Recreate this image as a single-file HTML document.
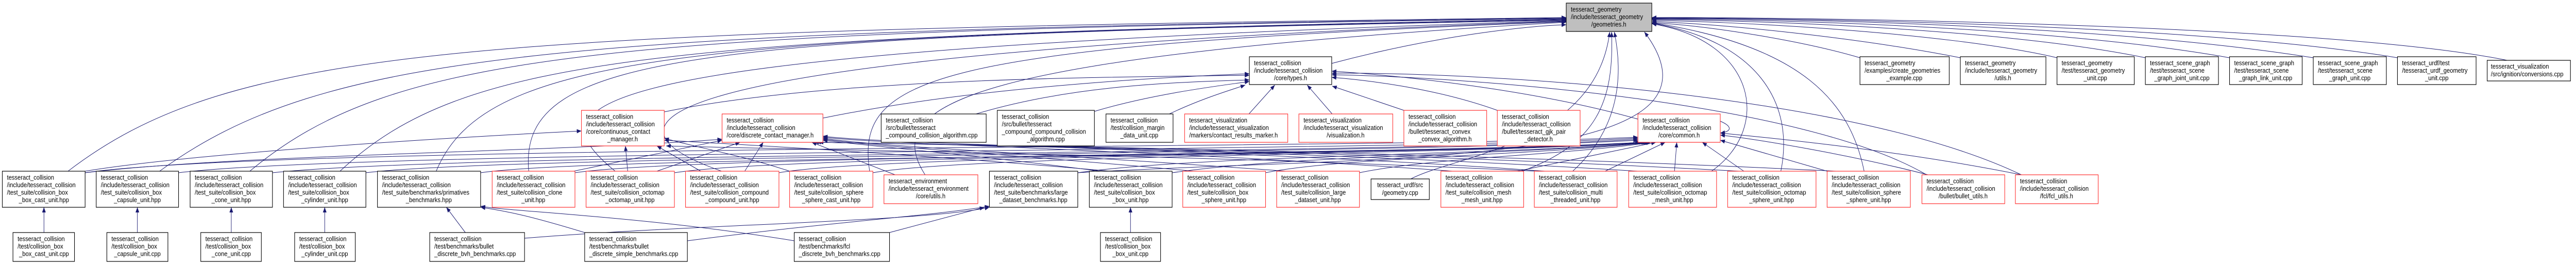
<!DOCTYPE html>
<html><head><meta charset="utf-8"><style>
html,body{margin:0;padding:0;background:#fff;width:100vw;height:100vh;overflow:hidden;}
svg{display:block;position:absolute;left:0;top:0;width:100vw;height:100vh;overflow:hidden;}
text{font-family:"Liberation Sans",sans-serif;font-size:12.5px;fill:#000;}
.b{fill:#fff;stroke:#000;stroke-width:1.2;}
.r{fill:#fff;stroke:#ff3030;stroke-width:1.2;}
.g{fill:#bfbfbf;stroke:#000;stroke-width:1.2;}
.e{fill:none;stroke:#191970;stroke-width:1;marker-end:url(#a);}
.c{text-anchor:middle;}
</style></head><body>
<svg viewBox="0 0 5569 512" preserveAspectRatio="none" xmlns="http://www.w3.org/2000/svg">
<defs><marker id="a" markerUnits="userSpaceOnUse" markerWidth="11" markerHeight="8" refX="10" refY="4" orient="auto"><path d="M0,0 L10,4 L0,8 z" fill="#191970"/></marker></defs>
<g>
<path class="e" d="M4021,112 C3900,80 3700,50 3571,44"/>
<path class="e" d="M4238,112 C4000,70 3700,45 3571,42"/>
<path class="e" d="M4447,112 C4200,60 3700,40 3571,40"/>
<path class="e" d="M4638,112 C4300,50 3700,38 3571,38"/>
<path class="e" d="M4820,112 C4400,45 3700,36 3571,37"/>
<path class="e" d="M5001,112 C4500,40 3700,35 3571,36"/>
<path class="e" d="M5183,112 C4700,40 3700,34 3571,35"/>
<path class="e" d="M5420,117 C5000,40 3700,33 3571,34"/>
<path class="e" d="M2879,123 C3100,70 3300,50 3386,48"/>
<path class="e" d="M147,332 C500,90 1000,60 3386,34"/>
<path class="e" d="M345,332 C700,100 1200,60 3386,35"/>
<path class="e" d="M540,332 C850,100 1300,60 3386,36"/>
<path class="e" d="M735,332 C1000,110 1400,70 3386,37"/>
<path class="e" d="M943,332 C1050,100 1500,70 3386,38"/>
<path class="e" d="M1143,332 C1120,100 1500,70 3386,39"/>
<path class="e" d="M1330,332 C1150,200 1200,100 3386,40"/>
<path class="e" d="M1560,332 C1300,250 1250,110 3386,41"/>
<path class="e" d="M1880,332 C1850,150 2000,90 3386,42"/>
<path class="e" d="M2000,339 C1900,200 2100,110 3386,43"/>
<path class="e" d="M3290,332 C3450,280 3490,200 3484,62"/>
<path class="e" d="M3400,332 C3500,250 3510,150 3490,62"/>
<path class="e" d="M2330,335 C3000,300 3780,330 3555,62"/>
<path class="e" d="M3700,332 C3830,250 3800,80 3571,46"/>
<path class="e" d="M3850,332 C3880,200 3800,80 3571,45"/>
<path class="e" d="M4030,332 C4000,200 3900,90 3571,44"/>
<path class="e" d="M3050,347 C3150,300 3450,280 3480,62"/>
<path class="e" d="M1436,217 C1800,150 2400,150 2701,146"/>
<path class="e" d="M1779,229 C2100,170 2500,150 2701,143"/>
<path class="e" d="M2110,221 C2300,170 2500,160 2701,155"/>
<path class="e" d="M2366,216 C2500,180 2650,165 2701,158"/>
<path class="e" d="M2528,221 C2600,190 2670,172 2692,165"/>
<path class="e" d="M2700,221 L2756,165"/>
<path class="e" d="M2880,221 L2826,165"/>
<path class="e" d="M3035,214 L2880,167"/>
<path class="e" d="M3237,214 C3100,170 2950,155 2879,150"/>
<path class="e" d="M3541,231 C3300,170 3000,145 2879,138"/>
<path class="e" d="M4165,339 C3900,200 3200,150 2879,145"/>
<path class="e" d="M4370,339 C4000,180 3200,140 2879,142"/>
<path class="e" d="M184,335 C600,280 3000,290 3541,266"/>
<path class="e" d="M386,335 C800,290 3000,295 3541,268"/>
<path class="e" d="M589,335 C1000,295 3000,300 3541,270"/>
<path class="e" d="M791,335 C1100,300 3000,300 3541,272"/>
<path class="e" d="M1039,335 C1300,300 3100,305 3545,276"/>
<path class="e" d="M1243,335 C1500,300 3100,300 3548,276"/>
<path class="e" d="M1458,335 C1700,300 3100,300 3551,276"/>
<path class="e" d="M1684,335 C1900,300 3100,300 3554,276"/>
<path class="e" d="M1887,335 C2100,300 3200,300 3557,276"/>
<path class="e" d="M2330,335 C2600,300 3300,300 3560,276"/>
<path class="e" d="M2534,335 C2800,300 3300,300 3563,276"/>
<path class="e" d="M2736,335 C2900,305 3350,300 3566,276"/>
<path class="e" d="M2939,335 C3100,305 3400,300 3569,276"/>
<path class="e" d="M3280,332 L3580,276"/>
<path class="e" d="M3470,332 L3600,276"/>
<path class="e" d="M3620,332 L3625,276"/>
<path class="e" d="M3770,332 L3680,276"/>
<path class="e" d="M3950,332 L3719,272"/>
<path class="e" d="M4168,339 C4000,300 3800,270 3719,262"/>
<path class="e" d="M4370,339 C4100,290 3800,265 3719,258"/>
<path class="e" d="M3719,235 C3745,245 3745,255 3719,258"/>
<path class="e" d="M184,335 C500,300 1200,295 1561,270"/>
<path class="e" d="M1240,332 L1561,272"/>
<path class="e" d="M1420,332 L1600,276"/>
<path class="e" d="M1610,332 L1650,276"/>
<path class="e" d="M1935,339 L1755,276"/>
<path class="e" d="M2380,332 C2100,300 1900,285 1779,272"/>
<path class="e" d="M2580,332 C2200,300 1900,285 1779,270"/>
<path class="e" d="M2780,332 C2300,300 1900,285 1779,268"/>
<path class="e" d="M3140,332 C2500,290 1900,280 1779,266"/>
<path class="e" d="M3340,332 C2700,290 1900,280 1779,264"/>
<path class="e" d="M3540,332 C2800,290 1900,278 1770,276"/>
<path class="e" d="M3760,332 C2900,290 1900,278 1765,276"/>
<path class="e" d="M3970,332 C3000,290 1900,278 1760,276"/>
<path class="e" d="M184,332 C400,300 900,270 1257,254"/>
<path class="e" d="M1357,332 L1352,283"/>
<path class="e" d="M1515,332 L1420,283"/>
<path class="e" d="M1707,332 C1600,300 1500,285 1436,268"/>
<path class="e" d="M2400,332 C2000,300 1600,280 1436,272"/>
<path class="e" d="M3320,332 C2600,300 1700,290 1440,283"/>
<path class="e" d="M95,451 L95,402"/>
<path class="e" d="M297,451 L297,402"/>
<path class="e" d="M500,451 L500,402"/>
<path class="e" d="M702,451 L702,402"/>
<path class="e" d="M2444,451 L2444,402"/>
<path class="e" d="M1006,451 L965,402"/>
<path class="e" d="M1134,462 C1500,435 2000,430 2139,402"/>
<path class="e" d="M1264,451 C1150,420 1100,410 1039,402"/>
<path class="e" d="M1486,467 C1800,430 2000,420 2139,400"/>
<path class="e" d="M1717,467 C1400,420 1100,410 1039,400"/>
<path class="e" d="M1923,451 L2128,402"/>
</g>

<rect class="g" x="3386" y="6" width="185" height="55"/>
<text x="3396" y="22.5">tesseract_geometry</text><text x="3396" y="37">/include/tesseract_geometry</text><text class="c" x="3478" y="51.5">/geometries.h</text>

<rect class="b" x="2701" y="110" width="178" height="54"/>
<text x="2711" y="126.5">tesseract_collision</text><text x="2711" y="141">/include/tesseract_collision</text><text class="c" x="2790" y="155.5">/core/types.h</text>
<rect class="b" x="4021" y="110" width="193" height="54"/>
<text x="4031" y="126.5">tesseract_geometry</text><text x="4031" y="141">/examples/create_geometries</text><text class="c" x="4117" y="155.5">_example.cpp</text>
<rect class="b" x="4238" y="110" width="185" height="54"/>
<text x="4248" y="126.5">tesseract_geometry</text><text x="4248" y="141">/include/tesseract_geometry</text><text class="c" x="4330" y="155.5">/utils.h</text>
<rect class="b" x="4447" y="110" width="167" height="54"/>
<text x="4457" y="126.5">tesseract_geometry</text><text x="4457" y="141">/test/tesseract_geometry</text><text class="c" x="4530" y="155.5">_unit.cpp</text>
<rect class="b" x="4638" y="110" width="158" height="54"/>
<text x="4648" y="126.5">tesseract_scene_graph</text><text x="4648" y="141">/test/tesseract_scene</text><text class="c" x="4717" y="155.5">_graph_joint_unit.cpp</text>
<rect class="b" x="4820" y="110" width="157" height="54"/>
<text x="4830" y="126.5">tesseract_scene_graph</text><text x="4830" y="141">/test/tesseract_scene</text><text class="c" x="4898" y="155.5">_graph_link_unit.cpp</text>
<rect class="b" x="5001" y="110" width="158" height="54"/>
<text x="5011" y="126.5">tesseract_scene_graph</text><text x="5011" y="141">/test/tesseract_scene</text><text class="c" x="5080" y="155.5">_graph_unit.cpp</text>
<rect class="b" x="5183" y="110" width="170" height="54"/>
<text x="5193" y="126.5">tesseract_urdf/test</text><text x="5193" y="141">/tesseract_urdf_geometry</text><text class="c" x="5268" y="155.5">_unit.cpp</text>
<rect class="b" x="5377" y="117" width="180" height="40"/>
<text x="5385" y="133">tesseract_visualization</text><text x="5385" y="148">/src/ignition/conversions.cpp</text>

<rect class="r" x="1257" y="214" width="179" height="69"/>
<text x="1267" y="230.5">tesseract_collision</text><text x="1267" y="245">/include/tesseract_collision</text><text x="1267" y="259.5">/core/continuous_contact</text><text class="c" x="1346" y="274">_manager.h</text>
<rect class="r" x="1561" y="221" width="218" height="55"/>
<text x="1571" y="237.5">tesseract_collision</text><text x="1571" y="252">/include/tesseract_collision</text><text x="1571" y="266.5">/core/discrete_contact_manager.h</text>
<rect class="b" x="1905" y="221" width="227" height="55"/>
<text x="1915" y="237.5">tesseract_collision</text><text x="1915" y="252">/src/bullet/tesseract</text><text x="1915" y="266.5">_compound_collision_algorithm.cpp</text>
<rect class="b" x="2156" y="214" width="210" height="69"/>
<text x="2166" y="230.5">tesseract_collision</text><text x="2166" y="245">/src/bullet/tesseract</text><text x="2166" y="259.5">_compound_compound_collision</text><text class="c" x="2261" y="274">_algorithm.cpp</text>
<rect class="b" x="2391" y="221" width="145" height="55"/>
<text x="2401" y="237.5">tesseract_collision</text><text x="2401" y="252">/test/collision_margin</text><text class="c" x="2463" y="266.5">_data_unit.cpp</text>
<rect class="r" x="2561" y="221" width="223" height="55"/>
<text x="2571" y="237.5">tesseract_visualization</text><text x="2571" y="252">/include/tesseract_visualization</text><text x="2571" y="266.5">/markers/contact_results_marker.h</text>
<rect class="r" x="2808" y="221" width="203" height="55"/>
<text x="2818" y="237.5">tesseract_visualization</text><text x="2818" y="252">/include/tesseract_visualization</text><text class="c" x="2909" y="266.5">/visualization.h</text>
<rect class="r" x="3035" y="214" width="179" height="69"/>
<text x="3045" y="230.5">tesseract_collision</text><text x="3045" y="245">/include/tesseract_collision</text><text x="3045" y="259.5">/bullet/tesseract_convex</text><text class="c" x="3124" y="274">_convex_algorithm.h</text>
<rect class="r" x="3237" y="214" width="179" height="69"/>
<text x="3247" y="230.5">tesseract_collision</text><text x="3247" y="245">/include/tesseract_collision</text><text x="3247" y="259.5">/bullet/tesseract_gjk_pair</text><text class="c" x="3326" y="274">_detector.h</text>
<rect class="r" x="3541" y="221" width="178" height="55"/>
<text x="3551" y="237.5">tesseract_collision</text><text x="3551" y="252">/include/tesseract_collision</text><text class="c" x="3630" y="266.5">/core/common.h</text>

<rect class="b" x="5" y="332" width="179" height="70"/>
<text x="15" y="348.5">tesseract_collision</text><text x="15" y="363">/include/tesseract_collision</text><text x="15" y="377.5">/test_suite/collision_box</text><text class="c" x="95" y="392">_box_cast_unit.hpp</text>
<rect class="b" x="208" y="332" width="178" height="70"/>
<text x="218" y="348.5">tesseract_collision</text><text x="218" y="363">/include/tesseract_collision</text><text x="218" y="377.5">/test_suite/collision_box</text><text class="c" x="297" y="392">_capsule_unit.hpp</text>
<rect class="b" x="411" y="332" width="178" height="70"/>
<text x="421" y="348.5">tesseract_collision</text><text x="421" y="363">/include/tesseract_collision</text><text x="421" y="377.5">/test_suite/collision_box</text><text class="c" x="500" y="392">_cone_unit.hpp</text>
<rect class="b" x="613" y="332" width="178" height="70"/>
<text x="623" y="348.5">tesseract_collision</text><text x="623" y="363">/include/tesseract_collision</text><text x="623" y="377.5">/test_suite/collision_box</text><text class="c" x="702" y="392">_cylinder_unit.hpp</text>
<rect class="b" x="816" y="332" width="223" height="70"/>
<text x="826" y="348.5">tesseract_collision</text><text x="826" y="363">/include/tesseract_collision</text><text x="826" y="377.5">/test_suite/benchmarks/primatives</text><text class="c" x="927" y="392">_benchmarks.hpp</text>
<rect class="r" x="1064" y="332" width="179" height="70"/>
<text x="1074" y="348.5">tesseract_collision</text><text x="1074" y="363">/include/tesseract_collision</text><text x="1074" y="377.5">/test_suite/collision_clone</text><text class="c" x="1153" y="392">_unit.hpp</text>
<rect class="r" x="1267" y="332" width="191" height="70"/>
<text x="1277" y="348.5">tesseract_collision</text><text x="1277" y="363">/include/tesseract_collision</text><text x="1277" y="377.5">/test_suite/collision_octomap</text><text class="c" x="1362" y="392">_octomap_unit.hpp</text>
<rect class="r" x="1482" y="332" width="202" height="70"/>
<text x="1492" y="348.5">tesseract_collision</text><text x="1492" y="363">/include/tesseract_collision</text><text x="1492" y="377.5">/test_suite/collision_compound</text><text class="c" x="1583" y="392">_compound_unit.hpp</text>
<rect class="r" x="1707" y="332" width="180" height="70"/>
<text x="1717" y="348.5">tesseract_collision</text><text x="1717" y="363">/include/tesseract_collision</text><text x="1717" y="377.5">/test_suite/collision_sphere</text><text class="c" x="1797" y="392">_sphere_cast_unit.hpp</text>
<rect class="r" x="1911" y="339" width="203" height="56"/>
<text x="1921" y="355.5">tesseract_environment</text><text x="1921" y="370">/include/tesseract_environment</text><text class="c" x="2012" y="384.5">/core/utils.h</text>
<rect class="b" x="2139" y="332" width="191" height="70"/>
<text x="2149" y="348.5">tesseract_collision</text><text x="2149" y="363">/include/tesseract_collision</text><text x="2149" y="377.5">/test_suite/benchmarks/large</text><text class="c" x="2234" y="392">_dataset_benchmarks.hpp</text>
<rect class="b" x="2355" y="332" width="179" height="70"/>
<text x="2365" y="348.5">tesseract_collision</text><text x="2365" y="363">/include/tesseract_collision</text><text x="2365" y="377.5">/test_suite/collision_box</text><text class="c" x="2444" y="392">_box_unit.hpp</text>
<rect class="r" x="2557" y="332" width="179" height="70"/>
<text x="2567" y="348.5">tesseract_collision</text><text x="2567" y="363">/include/tesseract_collision</text><text x="2567" y="377.5">/test_suite/collision_box</text><text class="c" x="2646" y="392">_sphere_unit.hpp</text>
<rect class="r" x="2760" y="332" width="179" height="70"/>
<text x="2770" y="348.5">tesseract_collision</text><text x="2770" y="363">/include/tesseract_collision</text><text x="2770" y="377.5">/test_suite/collision_large</text><text class="c" x="2849" y="392">_dataset_unit.hpp</text>
<rect class="b" x="2964" y="347" width="126" height="40"/>
<text class="c" x="3027" y="363">tesseract_urdf/src</text><text class="c" x="3027" y="378">/geometry.cpp</text>
<rect class="r" x="3115" y="332" width="179" height="70"/>
<text x="3125" y="348.5">tesseract_collision</text><text x="3125" y="363">/include/tesseract_collision</text><text x="3125" y="377.5">/test_suite/collision_mesh</text><text class="c" x="3204" y="392">_mesh_unit.hpp</text>
<rect class="r" x="3317" y="332" width="179" height="70"/>
<text x="3327" y="348.5">tesseract_collision</text><text x="3327" y="363">/include/tesseract_collision</text><text x="3327" y="377.5">/test_suite/collision_multi</text><text class="c" x="3406" y="392">_threaded_unit.hpp</text>
<rect class="r" x="3521" y="332" width="190" height="70"/>
<text x="3531" y="348.5">tesseract_collision</text><text x="3531" y="363">/include/tesseract_collision</text><text x="3531" y="377.5">/test_suite/collision_octomap</text><text class="c" x="3616" y="392">_mesh_unit.hpp</text>
<rect class="r" x="3735" y="332" width="191" height="70"/>
<text x="3745" y="348.5">tesseract_collision</text><text x="3745" y="363">/include/tesseract_collision</text><text x="3745" y="377.5">/test_suite/collision_octomap</text><text class="c" x="3830" y="392">_sphere_unit.hpp</text>
<rect class="r" x="3950" y="332" width="180" height="70"/>
<text x="3960" y="348.5">tesseract_collision</text><text x="3960" y="363">/include/tesseract_collision</text><text x="3960" y="377.5">/test_suite/collision_sphere</text><text class="c" x="4040" y="392">_sphere_unit.hpp</text>
<rect class="r" x="4155" y="339" width="179" height="56"/>
<text x="4165" y="355.5">tesseract_collision</text><text x="4165" y="370">/include/tesseract_collision</text><text class="c" x="4244" y="384.5">/bullet/bullet_utils.h</text>
<rect class="r" x="4357" y="339" width="179" height="56"/>
<text x="4367" y="355.5">tesseract_collision</text><text x="4367" y="370">/include/tesseract_collision</text><text class="c" x="4446" y="384.5">/fcl/fcl_utils.h</text>

<rect class="b" x="28" y="451" width="133" height="56"/>
<text x="38" y="467.5">tesseract_collision</text><text x="38" y="482">/test/collision_box</text><text class="c" x="95" y="496.5">_box_cast_unit.cpp</text>
<rect class="b" x="231" y="451" width="132" height="56"/>
<text x="241" y="467.5">tesseract_collision</text><text x="241" y="482">/test/collision_box</text><text class="c" x="297" y="496.5">_capsule_unit.cpp</text>
<rect class="b" x="434" y="451" width="131" height="56"/>
<text x="444" y="467.5">tesseract_collision</text><text x="444" y="482">/test/collision_box</text><text class="c" x="500" y="496.5">_cone_unit.cpp</text>
<rect class="b" x="637" y="451" width="131" height="56"/>
<text x="647" y="467.5">tesseract_collision</text><text x="647" y="482">/test/collision_box</text><text class="c" x="702" y="496.5">_cylinder_unit.cpp</text>
<rect class="b" x="929" y="451" width="205" height="56"/>
<text x="939" y="467.5">tesseract_collision</text><text x="939" y="482">/test/benchmarks/bullet</text><text x="939" y="496.5">_discrete_bvh_benchmarks.cpp</text>
<rect class="b" x="1264" y="451" width="222" height="56"/>
<text x="1274" y="467.5">tesseract_collision</text><text x="1274" y="482">/test/benchmarks/bullet</text><text x="1274" y="496.5">_discrete_simple_benchmarks.cpp</text>
<rect class="b" x="1717" y="451" width="206" height="56"/>
<text x="1727" y="467.5">tesseract_collision</text><text x="1727" y="482">/test/benchmarks/fcl</text><text x="1727" y="496.5">_discrete_bvh_benchmarks.cpp</text>
<rect class="b" x="2379" y="451" width="130" height="56"/>
<text x="2389" y="467.5">tesseract_collision</text><text x="2389" y="482">/test/collision_box</text><text class="c" x="2444" y="496.5">_box_unit.cpp</text>
</svg>
</body></html>
